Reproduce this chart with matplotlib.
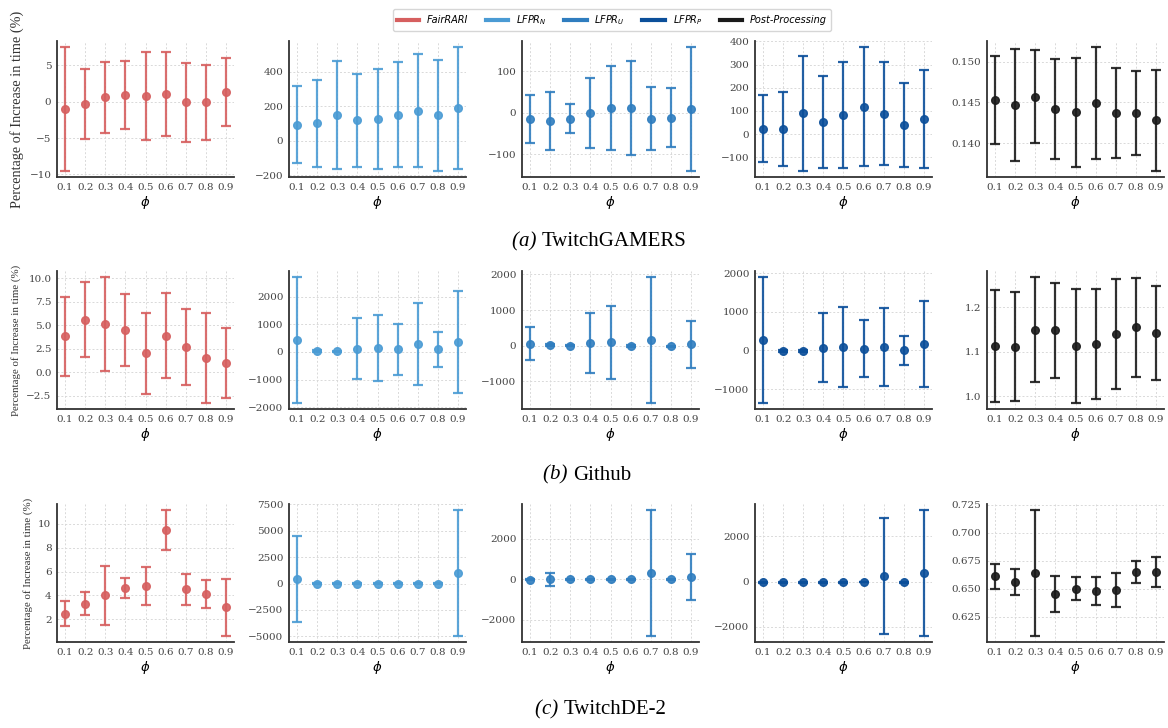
import matplotlib
matplotlib.use("Agg")
import matplotlib.pyplot as plt
from matplotlib.lines import Line2D
import numpy as np

phi = [0.1, 0.2, 0.3, 0.4, 0.5, 0.6, 0.7, 0.8, 0.9]
methods = ["FairRARI", "LFPR$_N$", "LFPR$_U$", "LFPR$_P$", "Post-Processing"]
colors = ["#d65f5f", "#4a9bd4", "#2f7dbf", "#0b4f9a", "#1a1a1a"]
captions = ["(a)", "(b)", "(c)"]
datasets = ["TwitchGAMERS", "Github", "TwitchDE-2"]

# TwitchGAMERS
gam_fair_mean = [-1.0, -0.3, 0.6, 0.9, 0.8, 1.1, -0.1, -0.1, 1.3]
gam_fair_err = [8.5, 4.8, 4.9, 4.7, 6.0, 5.8, 5.4, 5.2, 4.7]
gam_n_mean = [92, 102, 148, 118, 128, 152, 175, 147, 188]
gam_n_err = [224, 252, 313, 268, 290, 305, 327, 322, 355]
gam_u_mean = [-15, -20, -14, -1, 11, 11, -14, -12, 9]
gam_u_err = [57, 69, 34, 85, 101, 113, 75, 71, 149]
gam_p_mean = [24, 22, 90, 53, 83, 119, 89, 40, 66]
gam_p_err = [146, 161, 248, 199, 230, 256, 224, 182, 212]
gam_post_mean = [0.1453, 0.1447, 0.1457, 0.1442, 0.1438, 0.1449, 0.1437, 0.1437, 0.1428]
gam_post_err = [0.0054, 0.0069, 0.0057, 0.0061, 0.0067, 0.0069, 0.0055, 0.0052, 0.0062]

# Github
git_fair_mean = [3.8, 5.6, 5.1, 4.5, 2.0, 3.9, 2.7, 1.5, 0.95]
git_fair_err = [4.25, 3.95, 5.0, 3.8, 4.3, 4.55, 4.05, 4.75, 3.75]
git_n_mean = [430, 30, 15, 110, 130, 90, 290, 90, 360]
git_n_err = [2270, 40, 30, 1100, 1200, 915, 1495, 645, 1830]
git_u_mean = [60, 10, 0, 80, 100, -10, 160, -20, 40]
git_u_err = [465, 25, 20, 850, 1025, 30, 1760, 20, 665]
git_p_mean = [270, -10, -10, 70, 90, 50, 80, 0, 170]
git_p_err = [1620, 20, 20, 885, 1025, 745, 1005, 380, 1115]
git_post_mean = [1.113, 1.111, 1.150, 1.148, 1.113, 1.117, 1.140, 1.155, 1.143]
git_post_err = [0.126, 0.123, 0.118, 0.107, 0.128, 0.124, 0.124, 0.112, 0.106]

# TwitchDE-2
de_fair_mean = [2.45, 3.3, 4.0, 4.6, 4.8, 9.5, 4.5, 4.1, 3.0]
de_fair_err = [1.05, 0.95, 2.5, 0.85, 1.6, 1.65, 1.3, 1.2, 2.4]
de_n_mean = [420, 0, 0, 0, 0, 0, 0, 0, 1000]
de_n_err = [4050, 60, 60, 60, 60, 60, 60, 60, 5950]
de_u_mean = [-30, 0, -20, -20, -10, -10, 300, -20, 100]
de_u_err = [20, 320, 20, 20, 20, 20, 3100, 20, 1150]
de_p_mean = [-30, -30, -30, -30, -30, -20, 250, -30, 380]
de_p_err = [20, 20, 20, 20, 20, 20, 2570, 20, 2780]
de_post_mean = [0.661, 0.656, 0.664, 0.645, 0.650, 0.648, 0.649, 0.665, 0.665]
de_post_err = [0.011, 0.0115, 0.056, 0.016, 0.0105, 0.0125, 0.015, 0.010, 0.0135]

rows = [
    [(gam_fair_mean, gam_fair_err), (gam_n_mean, gam_n_err), (gam_u_mean, gam_u_err),
     (gam_p_mean, gam_p_err), (gam_post_mean, gam_post_err)],
    [(git_fair_mean, git_fair_err), (git_n_mean, git_n_err), (git_u_mean, git_u_err),
     (git_p_mean, git_p_err), (git_post_mean, git_post_err)],
    [(de_fair_mean, de_fair_err), (de_n_mean, de_n_err), (de_u_mean, de_u_err),
     (de_p_mean, de_p_err), (de_post_mean, de_post_err)],
]

fig = plt.figure(figsize=(11.68, 7.28), dpi=100)
W, H = 1168, 728
lefts = [57, 289, 522, 755, 987]
pw = 177
tops = [41, 271, 504]
ph = [136, 138, 138]
ylab_size = [10.3, 7.8, 7.8]
cap_y = [242, 475, 710]
cap_x = [599, 587, 601]

xpos = np.arange(len(phi))
for r, row in enumerate(rows):
    for c, (m, e) in enumerate(row):
        ax = fig.add_axes([lefts[c] / W, 1 - (tops[r] + ph[r]) / H, pw / W, ph[r] / H])
        ax.errorbar(xpos, m, yerr=e, fmt="o", color=colors[c], ms=5.5,
                    elinewidth=1.6, capsize=3.8, capthick=1.6, alpha=0.9)
        ax.set_xlim(-0.4, 8.4)
        ax.set_xticks(xpos)
        ax.set_xticklabels([str(p) for p in phi])
        ax.grid(True, color="#d9d9d9", linestyle=(0, (2, 2)), linewidth=0.7)
        ax.set_axisbelow(True)
        for s in ["top", "right"]:
            ax.spines[s].set_visible(False)
        for s in ["left", "bottom"]:
            ax.spines[s].set_color("#333333")
            ax.spines[s].set_linewidth(1.3)
        ax.tick_params(length=0, pad=4, labelsize=7.5, colors="#444444")
        for lab in ax.get_xticklabels() + ax.get_yticklabels():
            lab.set_family("DejaVu Serif")
        ax.set_xlabel(r"$\phi$", fontsize=9.5, labelpad=2)
        if c == 0:
            ax.set_ylabel("Percentage of Increase in time (%)", family="Liberation Serif",
                          fontsize=ylab_size[r], color="#333333")

# captions: italic label + upright dataset name, centred as one line
renderer = fig.canvas.get_renderer()
for r in range(3):
    y = 1 - cap_y[r] / H
    t1 = fig.text(0, y, captions[r] + " ", ha="left", va="center",
                  family="Liberation Serif", style="italic", fontsize=15)
    t2 = fig.text(0, y, datasets[r], ha="left", va="center",
                  family="Liberation Serif", fontsize=15)
    w1 = t1.get_window_extent(renderer).width
    w2 = t2.get_window_extent(renderer).width
    x0 = cap_x[r] - (w1 + w2) / 2
    t1.set_x(x0 / W)
    t2.set_x((x0 + w1) / W)

handles = [Line2D([0], [0], color=col, lw=3) for col in colors]
fig.legend(handles, methods, loc="center", bbox_to_anchor=(612 / W, 1 - 20 / H), ncol=5,
           prop={"family": "DejaVu Sans", "style": "italic", "size": 7},
           frameon=True, edgecolor="#cccccc", fancybox=True, handlelength=2.3,
           columnspacing=1.8, borderpad=0.4)

fig.savefig("out.png", dpi=100)
